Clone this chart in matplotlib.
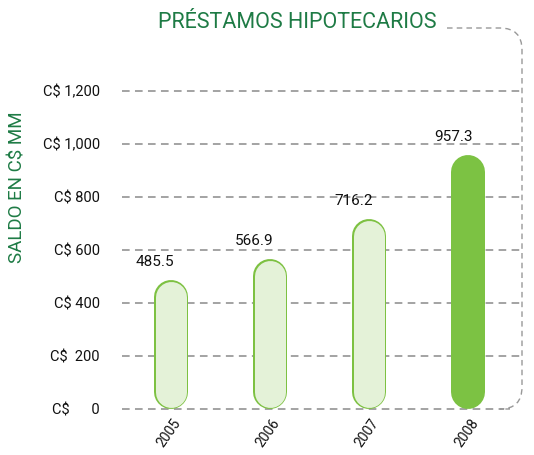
import matplotlib
matplotlib.use("Agg")
import matplotlib.pyplot as plt
from matplotlib.path import Path
from matplotlib.patches import PathPatch
from matplotlib.transforms import ScaledTranslation

# datos
anios = ["2005", "2006", "2007", "2008"]
saldos = [485.5, 566.9, 716.2, 957.3]
etiquetas_y = ["C$      0", "C$  200", "C$ 400", "C$ 600", "C$ 800", "C$ 1,000", "C$ 1,200"]
valores_y = [0, 200, 400, 600, 800, 1000, 1200]

plt.rcParams["font.family"] = ["Roboto", "DejaVu Sans"]

W, H = 534, 455
verde = "#1e7b45"
borde_claro = "#7dc142"
relleno_claro = "#e4f2d8"
verde_fuerte = "#7cc243"
gris = "#8a8a8a"

fig = plt.figure(figsize=(W / 100, H / 100), dpi=100)
# ejes en pixeles: x 122..522, y 91..409
ax = fig.add_axes([122 / W, 1 - 409 / H, 400 / W, 318 / H])
ax.set_ylim(0, 1200)
ax.set_xlim(-0.49, 3.54)
for s in ax.spines.values():
    s.set_visible(False)
ax.set_yticks(valores_y)
ax.set_yticklabels(etiquetas_y, fontsize=10.5, color="#111111")
ax.tick_params(axis="y", length=0, pad=16)
ax.set_xticks(range(len(anios)))
ax.set_xticklabels(anios, rotation=55, ha="right", va="center", rotation_mode="anchor",
                   fontsize=10, color="#111111")
ax.tick_params(axis="x", length=0, pad=8)
desplaza = ScaledTranslation(7 / 100, 0, fig.dpi_scale_trans)
for lab in ax.get_xticklabels():
    lab.set_transform(lab.get_transform() + desplaza)

# cuadricula
for v in valores_y:
    fin = 0.955 if v == 0 else 1.0
    ax.plot([0, fin], [v, v], transform=ax.get_yaxis_transform(), color=gris,
            lw=1.1, dashes=(5, 3.5), zorder=1, clip_on=False)

# barras redondeadas
ancho_px = 34
px_por_unidad = 318 / 1200
r = (ancho_px / 2) / px_por_unidad
pt = 72 / 100
for i, v in enumerate(saldos):
    if i < len(saldos) - 1:
        ax.plot([i, i], [r, v - r], color=borde_claro, lw=ancho_px * pt,
                solid_capstyle="round", zorder=2)
        ax.plot([i, i], [r, v - r], color=relleno_claro, lw=(ancho_px - 3) * pt,
                solid_capstyle="round", zorder=3)
    else:
        ax.plot([i, i], [r, v - r], color=verde_fuerte, lw=ancho_px * pt,
                solid_capstyle="round", zorder=3)
    ax.annotate(f"{v:.1f}", (i, v), xytext=(-11, 8), textcoords="offset points",
                ha="center", va="bottom", fontsize=11, color="#111111")

# marco punteado (pixeles de figura)
def fp(x, y):
    return (x / W, 1 - y / H)

rad = 22
verts = [fp(447, 28), fp(522 - rad, 28), fp(522, 28), fp(522, 28 + rad),
         fp(522, 409 - rad), fp(522, 409), fp(522 - rad, 409), fp(510, 409)]
codes = [Path.MOVETO, Path.LINETO, Path.CURVE3, Path.CURVE3,
         Path.LINETO, Path.CURVE3, Path.CURVE3, Path.LINETO]
fig.patches.append(PathPatch(Path(verts, codes), transform=fig.transFigure,
                             fill=False, edgecolor="#999999", lw=1.0,
                             linestyle=(0, (4, 3))))

fig.text(297 / W, 1 - 22 / H, "PRÉSTAMOS HIPOTECARIOS", color=verde, fontsize=15.5,
         ha="center", va="center")
fig.text(18 / W, 1 - 187 / H, "SALDO EN C$ MM", color=verde, fontsize=13.5,
         rotation=90, ha="center", va="center")

fig.savefig("out.png", dpi=100)
